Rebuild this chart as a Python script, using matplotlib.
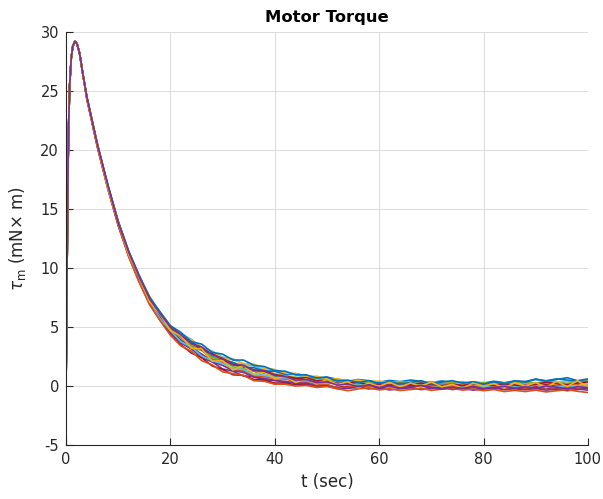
import matplotlib
matplotlib.use("Agg")
import matplotlib.pyplot as plt
import numpy as np

plt.rcParams["axes.unicode_minus"] = False

# ---------------- data ----------------
# Shared rising part (all runs coincide here)
T_RISE = [0, 0.1, 0.2, 0.3, 0.4, 0.5, 0.7, 1.0, 1.3, 1.7, 2.1, 2.6, 3.2]
V_RISE = [0, 5, 10, 15, 19, 22, 25.5, 27.8, 28.8, 29.2, 29.0, 28.2, 26.5]

# Decay part sampled every 2 s from t = 4 to 100
T_DECAY = list(range(4, 101, 2))
MEAN_DECAY = [24.4, 20.4, 16.9, 13.8, 11.2, 9.1, 7.3, 5.9, 4.8,
              4.0, 3.4, 2.85, 2.35, 1.95, 1.65, 1.4, 1.15, 0.95, 0.8,
              0.65, 0.55, 0.45, 0.38, 0.3, 0.22, 0.15, 0.15, 0.15, 0.12,
              0.12, 0.12, 0.1, 0.1, 0.08, 0.08, 0.05, 0.05, 0.05, 0.05,
              0.05, 0.03, 0.03, 0.08, 0.1, 0.1, 0.1, 0.1, 0.1, 0.1]

# Per-run deviation from the mean during the decay (Monte-Carlo spread)
DEV_1 = [0.05, 0.05, 0.1, 0.1, 0.1, 0.15, 0.2, 0.1, 0.25,
         0.3, 0.2, 0.45, 0.35, 0.5, 0.3, 0.4, 0.2, 0.35, 0.25,
         0.3, 0.15, 0.25, 0.1, 0.2, 0.05, 0.15, -0.05, 0.1, 0.2,
         0.05, 0.15, 0.25, 0.1, 0.2, 0.0, 0.1, 0.2, 0.05, 0.15,
         0.25, 0.1, 0.2, 0.3, 0.15, 0.05, 0.2, 0.3, 0.15, 0.2]
DEV_2 = [-0.05, -0.1, -0.1, -0.15, -0.1, -0.2, -0.15, -0.3, -0.2,
         -0.35, -0.25, -0.45, -0.3, -0.5, -0.4, -0.55, -0.35, -0.45, -0.3,
         -0.35, -0.2, -0.3, -0.15, -0.25, -0.35, -0.2, -0.3, -0.1, -0.25,
         -0.15, -0.3, -0.2, -0.1, -0.25, -0.15, -0.3, -0.2, -0.35, -0.2,
         -0.3, -0.15, -0.25, -0.35, -0.2, -0.3, -0.4, -0.25, -0.35, -0.45]
DEV_3 = [0.0, 0.05, -0.05, 0.0, 0.05, -0.1, 0.1, 0.0, -0.15,
         0.1, -0.1, 0.15, -0.05, 0.2, 0.0, -0.15, 0.1, -0.1, 0.05,
         -0.05, 0.1, -0.1, 0.05, 0.15, -0.05, 0.1, -0.15, 0.0, 0.1,
         -0.1, 0.05, 0.15, -0.05, 0.1, -0.1, 0.0, 0.15, -0.05, 0.05,
         0.1, -0.1, 0.05, 0.15, -0.05, 0.1, -0.1, 0.05, 0.2, 0.0]
DEV_4 = [0.1, 0.1, 0.15, 0.15, 0.2, 0.25, 0.3, 0.35, 0.3,
         0.45, 0.55, 0.4, 0.6, 0.5, 0.65, 0.45, 0.55, 0.4, 0.5,
         0.35, 0.4, 0.25, 0.3, 0.15, 0.25, 0.1, 0.2, 0.05, 0.15,
         0.0, 0.1, -0.05, 0.05, 0.15, 0.0, 0.1, -0.1, 0.05, 0.0,
         -0.1, 0.05, -0.05, 0.1, 0.0, 0.15, 0.25, 0.1, 0.2, 0.35]
DEV_5 = [-0.1, -0.1, -0.15, -0.2, -0.2, -0.25, -0.35, -0.3, -0.4,
         -0.5, -0.6, -0.45, -0.65, -0.55, -0.7, -0.5, -0.6, -0.45, -0.55,
         -0.4, -0.45, -0.3, -0.4, -0.25, -0.35, -0.2, -0.3, -0.15, -0.25,
         -0.1, -0.2, -0.05, -0.15, 0.0, -0.1, -0.2, -0.05, -0.15, -0.1,
         -0.2, -0.05, -0.15, 0.0, -0.1, 0.05, -0.05, 0.1, 0.0, -0.1]
DEV_6 = [0.0, 0.05, 0.05, 0.1, 0.05, 0.1, 0.0, 0.15, 0.05,
         0.2, 0.1, 0.3, 0.15, 0.25, 0.35, 0.2, 0.4, 0.3, 0.45,
         0.35, 0.5, 0.4, 0.3, 0.45, 0.35, 0.25, 0.4, 0.3, 0.2,
         0.35, 0.25, 0.4, 0.3, 0.2, 0.35, 0.25, 0.15, 0.3, 0.2,
         0.35, 0.25, 0.4, 0.3, 0.45, 0.35, 0.5, 0.4, 0.3, 0.45]
DEV_7 = [-0.05, 0.0, -0.05, -0.05, -0.1, 0.0, -0.1, -0.05, 0.05,
         -0.15, 0.0, -0.2, -0.1, 0.05, -0.25, -0.1, -0.3, -0.15, -0.2,
         -0.05, -0.2, -0.1, -0.3, -0.15, -0.4, -0.25, -0.1, -0.2, -0.05,
         -0.2, -0.1, -0.25, -0.05, -0.15, -0.3, -0.1, -0.2, 0.0, -0.15,
         -0.05, -0.2, -0.1, -0.25, -0.35, -0.2, -0.3, -0.15, -0.25, -0.4]
DEV_8 = [0.1, 0.15, 0.1, 0.2, 0.15, 0.2, 0.3, 0.2, 0.35,
         0.3, 0.5, 0.4, 0.55, 0.45, 0.6, 0.5, 0.7, 0.55, 0.6,
         0.45, 0.5, 0.35, 0.45, 0.3, 0.4, 0.25, 0.35, 0.2, 0.3,
         0.15, 0.25, 0.1, 0.2, 0.3, 0.15, 0.25, 0.1, 0.2, 0.05,
         0.15, 0.0, 0.1, -0.05, 0.05, 0.15, 0.0, 0.1, -0.05, 0.05]
DEV_9 = [0.0, -0.05, 0.0, -0.05, -0.1, -0.05, -0.15, -0.1, -0.2,
         -0.1, -0.25, -0.15, -0.3, -0.2, -0.35, -0.25, -0.4, -0.3, -0.35,
         -0.25, -0.35, -0.2, -0.4, -0.3, -0.45, -0.35, -0.25, -0.4, -0.3,
         -0.45, -0.35, -0.25, -0.4, -0.3, -0.2, -0.35, -0.25, -0.4, -0.3,
         -0.2, -0.35, -0.25, -0.4, -0.3, -0.45, -0.35, -0.5, -0.4, -0.3]
DEV_10 = [0.05, 0.0, 0.05, 0.05, 0.0, 0.1, 0.05, 0.15, 0.1,
          0.2, 0.05, 0.25, 0.1, 0.3, 0.15, 0.05, 0.25, 0.1, 0.2,
          0.05, 0.2, 0.1, 0.25, 0.15, 0.3, 0.2, 0.05, 0.15, 0.0,
          0.1, 0.2, 0.05, 0.15, 0.25, 0.1, 0.2, 0.3, 0.15, 0.25,
          0.1, 0.2, 0.35, 0.25, 0.15, 0.3, 0.2, 0.1, 0.25, 0.35]
DEV_11 = [-0.05, -0.05, 0.0, -0.1, -0.05, -0.15, -0.05, -0.2, -0.1,
          -0.25, -0.1, -0.3, -0.2, -0.05, -0.15, 0.0, -0.2, -0.05, -0.1,
          0.05, -0.1, 0.0, -0.15, -0.05, 0.1, -0.05, 0.05, -0.1, 0.0,
          0.1, -0.05, 0.05, 0.15, 0.0, -0.1, 0.05, -0.05, 0.1, -0.1,
          0.0, 0.1, -0.05, -0.15, 0.0, -0.1, -0.2, -0.05, -0.15, -0.05]
DEV_12 = [0.05, 0.1, 0.05, 0.1, 0.15, 0.1, 0.2, 0.15, 0.2,
          0.25, 0.35, 0.2, 0.4, 0.3, 0.15, 0.3, 0.2, 0.35, 0.15,
          0.2, 0.1, 0.25, 0.05, 0.15, 0.0, 0.1, 0.15, -0.05, 0.05,
          -0.05, 0.1, 0.0, 0.15, 0.05, -0.05, 0.1, 0.0, 0.15, 0.05,
          0.0, 0.15, 0.05, -0.1, 0.05, 0.2, 0.1, 0.0, 0.15, 0.25]
DEV_13 = [0.1, 0.1, 0.2, 0.15, 0.25, 0.3, 0.2, 0.4, 0.3,
          0.55, 0.35, 0.7, 0.5, 0.75, 0.55, 0.8, 0.6, 0.7, 0.5,
          0.6, 0.4, 0.5, 0.3, 0.45, 0.2, 0.35, 0.15, 0.3, 0.1,
          0.25, 0.05, 0.2, 0.35, 0.1, 0.25, 0.4, 0.2, 0.3, 0.1,
          0.3, 0.15, 0.4, 0.25, 0.5, 0.3, 0.45, 0.6, 0.35, 0.5]
DEV_14 = [-0.1, -0.15, -0.2, -0.15, -0.25, -0.3, -0.4, -0.35, -0.5,
          -0.6, -0.45, -0.7, -0.55, -0.75, -0.6, -0.5, -0.7, -0.55, -0.65,
          -0.5, -0.55, -0.4, -0.5, -0.35, -0.45, -0.55, -0.4, -0.3, -0.45,
          -0.35, -0.5, -0.4, -0.3, -0.45, -0.35, -0.25, -0.4, -0.3, -0.45,
          -0.35, -0.5, -0.4, -0.55, -0.45, -0.6, -0.5, -0.4, -0.55, -0.65]
DEV_15 = [0.0, 0.1, -0.1, 0.05, -0.05, 0.15, -0.15, 0.2, -0.1,
          0.25, -0.2, 0.3, -0.25, 0.2, -0.3, 0.35, -0.15, 0.25, -0.2,
          0.2, -0.25, 0.15, -0.2, 0.25, -0.1, 0.2, -0.3, 0.1, -0.15,
          0.2, -0.2, 0.15, -0.1, 0.25, -0.15, 0.1, -0.25, 0.2, -0.05,
          0.15, -0.2, 0.25, -0.1, 0.2, -0.25, 0.3, -0.15, 0.35, -0.2]
DEV_16 = [0.05, 0.1, 0.1, 0.05, 0.15, 0.2, 0.1, 0.25, 0.2,
          0.35, 0.2, 0.45, 0.3, 0.4, 0.2, 0.35, 0.15, 0.3, 0.1,
          0.15, -0.05, 0.1, -0.1, 0.05, -0.15, 0.0, -0.2, -0.05, -0.25,
          -0.1, -0.3, -0.15, -0.05, -0.2, -0.35, -0.15, -0.25, -0.1, -0.3,
          -0.2, -0.05, -0.25, -0.15, -0.3, -0.1, -0.2, -0.35, -0.15, -0.25]
RUN_DEVS = [DEV_1, DEV_2, DEV_3, DEV_4, DEV_5, DEV_6, DEV_7, DEV_8,
            DEV_9, DEV_10, DEV_11, DEV_12, DEV_13, DEV_14, DEV_15, DEV_16]

X_TICKS = [0, 20, 40, 60, 80, 100]
Y_TICKS = [-5, 0, 5, 10, 15, 20, 25, 30]
TITLE = "Motor Torque"
XLABEL = "t (sec)"
YLABEL = r"$\tau_{\rm m}$ (mN$\times$ m)"

MATLAB_COLORS = ["#0072BD", "#D95319", "#EDB120", "#7E2F8E",
                 "#77AC30", "#4DBEEE", "#A2142F"]

# ---------------- figure ----------------
fig = plt.figure(figsize=(6.03, 4.99), dpi=100)
ax = fig.add_axes([0.1095, 0.1082, 0.8655, 0.8277])

t_all = np.array(T_RISE + T_DECAY, dtype=float)
for i, dev in enumerate(RUN_DEVS):
    vals = np.array(V_RISE + [m + d for m, d in zip(MEAN_DECAY, dev)])
    ax.plot(t_all, vals, color=MATLAB_COLORS[(i + 2) % 7], lw=1.2)

ax.set_xlim(0, 100)
ax.set_ylim(-5, 30)
ax.set_xticks(X_TICKS)
ax.set_yticks(Y_TICKS)
ax.grid(True, color="#DCDCDC", lw=0.7)
ax.set_axisbelow(True)
for s in ["top", "right"]:
    ax.spines[s].set_visible(False)
for s in ["left", "bottom"]:
    ax.spines[s].set_color("#262626")
    ax.spines[s].set_linewidth(0.8)
ax.tick_params(direction="in", length=5, width=0.8, colors="#262626",
               labelsize=10.5, pad=5)

ax.set_title(TITLE, fontsize=11.8, fontweight="bold", color="black", pad=7)
ax.set_xlabel(XLABEL, fontsize=12, color="#262626", labelpad=4)
ax.set_ylabel(YLABEL, fontsize=12, color="#262626", labelpad=9)

fig.savefig("out.png", dpi=100)
